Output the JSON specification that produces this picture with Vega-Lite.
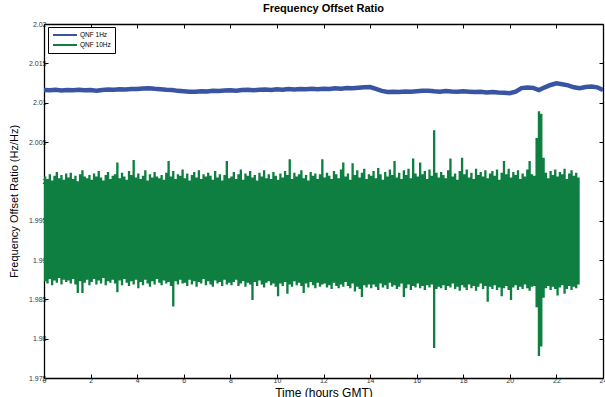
{
 "$schema": "https://vega.github.io/schema/vega-lite/v6.json",
 "width": 559, "height": 354,
 "autosize": {"type": "none"},
 "padding": {"left": 44, "top": 24, "right": 2, "bottom": 19},
 "background": "white",
 "config": {"view": {"stroke": null}, "font": "Liberation Sans"},
 "title": {"text": "Frequency Offset Ratio", "fontSize": 11, "fontWeight": "bold", "font": "Liberation Sans", "color": "black", "offset": 6, "anchor": "middle"},
 "datasets": {
  "qnf10": [
{"t":0,"hi":2.0006,"lo":1.9873},{"t":0.1,"hi":2.0003,"lo":1.987},{"t":0.2,"hi":2.0009,"lo":1.9876},{"t":0.3,"hi":2.0001,"lo":1.9868},{"t":0.4,"hi":2.0007,"lo":1.9874},{"t":0.5,"hi":2.0012,"lo":1.9871},{"t":0.6,"hi":2.0004,"lo":1.9877},{"t":0.7,"hi":2.0008,"lo":1.9869},{"t":0.8,"hi":2.0002,"lo":1.9875},{"t":0.9,"hi":2.001,"lo":1.9872},
{"t":1,"hi":2.0005,"lo":1.9874},{"t":1.1,"hi":2.0011,"lo":1.987},{"t":1.2,"hi":2.0003,"lo":1.9876},{"t":1.3,"hi":2.0007,"lo":1.9869},{"t":1.4,"hi":2.0,"lo":1.9858},{"t":1.5,"hi":2.0009,"lo":1.9873},{"t":1.6,"hi":2.0014,"lo":1.9858},{"t":1.7,"hi":2.0006,"lo":1.9871},{"t":1.8,"hi":2.0004,"lo":1.9875},{"t":1.9,"hi":2.0008,"lo":1.9868},
{"t":2,"hi":2.0002,"lo":1.9872},{"t":2.1,"hi":2.001,"lo":1.9876},{"t":2.2,"hi":2.0006,"lo":1.9869},{"t":2.3,"hi":2.0013,"lo":1.9874},{"t":2.4,"hi":2.0005,"lo":1.987},{"t":2.5,"hi":2.0001,"lo":1.9877},{"t":2.6,"hi":2.0008,"lo":1.9868},{"t":2.7,"hi":2.0012,"lo":1.9873},{"t":2.8,"hi":2.0003,"lo":1.9871},{"t":2.9,"hi":2.0007,"lo":1.9875},
{"t":3,"hi":2.0009,"lo":1.987},{"t":3.1,"hi":2.0024,"lo":1.9859},{"t":3.2,"hi":2.0004,"lo":1.9874},{"t":3.3,"hi":2.0011,"lo":1.9868},{"t":3.4,"hi":2.0006,"lo":1.9876},{"t":3.5,"hi":2.0002,"lo":1.9871},{"t":3.6,"hi":2.0013,"lo":1.9867},{"t":3.7,"hi":2.0008,"lo":1.9873},{"t":3.8,"hi":2.0027,"lo":1.9869},{"t":3.9,"hi":2.0005,"lo":1.9875},
{"t":4,"hi":2.001,"lo":1.9864},{"t":4.1,"hi":2.0003,"lo":1.9872},{"t":4.2,"hi":2.0007,"lo":1.9868},{"t":4.3,"hi":2.0014,"lo":1.9875},{"t":4.4,"hi":2.0001,"lo":1.987},{"t":4.5,"hi":2.0009,"lo":1.9866},{"t":4.6,"hi":2.0005,"lo":1.9873},{"t":4.7,"hi":2.0012,"lo":1.9869},{"t":4.8,"hi":2.0006,"lo":1.9876},{"t":4.9,"hi":2.0004,"lo":1.9871},
{"t":5,"hi":2.0008,"lo":1.9868},{"t":5.1,"hi":2.0002,"lo":1.9874},{"t":5.2,"hi":2.0011,"lo":1.987},{"t":5.3,"hi":2.0026,"lo":1.9872},{"t":5.4,"hi":2.0006,"lo":1.9867},{"t":5.5,"hi":2.0013,"lo":1.9841},{"t":5.6,"hi":2.0003,"lo":1.9873},{"t":5.7,"hi":2.0009,"lo":1.9869},{"t":5.8,"hi":2.0007,"lo":1.9875},{"t":5.9,"hi":2.0015,"lo":1.987},
{"t":6,"hi":2.0004,"lo":1.9871},{"t":6.1,"hi":2.001,"lo":1.9867},{"t":6.2,"hi":2.0001,"lo":1.9875},{"t":6.3,"hi":2.0008,"lo":1.9869},{"t":6.4,"hi":2.0012,"lo":1.9873},{"t":6.5,"hi":2.0005,"lo":1.9866},{"t":6.6,"hi":2.0014,"lo":1.9872},{"t":6.7,"hi":2.0003,"lo":1.987},{"t":6.8,"hi":2.0009,"lo":1.9876},{"t":6.9,"hi":2.0006,"lo":1.9868},
{"t":7,"hi":2.0011,"lo":1.9873},{"t":7.1,"hi":2.0007,"lo":1.9869},{"t":7.2,"hi":2.0002,"lo":1.9866},{"t":7.3,"hi":2.0013,"lo":1.9874},{"t":7.4,"hi":2.0005,"lo":1.987},{"t":7.5,"hi":2.0009,"lo":1.9872},{"t":7.6,"hi":2.0001,"lo":1.9867},{"t":7.7,"hi":2.0008,"lo":1.9875},{"t":7.8,"hi":2.0026,"lo":1.9869},{"t":7.9,"hi":2.0004,"lo":1.9871},
{"t":8,"hi":2.0006,"lo":1.9868},{"t":8.1,"hi":2.0012,"lo":1.9872},{"t":8.2,"hi":2.0003,"lo":1.9875},{"t":8.3,"hi":2.0009,"lo":1.9867},{"t":8.4,"hi":2.0015,"lo":1.987},{"t":8.5,"hi":2.0002,"lo":1.9873},{"t":8.6,"hi":2.001,"lo":1.9866},{"t":8.7,"hi":2.0007,"lo":1.9871},{"t":8.8,"hi":2.0013,"lo":1.9869},{"t":8.9,"hi":2.0005,"lo":1.9849},
{"t":9,"hi":2.0008,"lo":1.9872},{"t":9.1,"hi":2.0001,"lo":1.9867},{"t":9.2,"hi":2.0011,"lo":1.9874},{"t":9.3,"hi":2.0006,"lo":1.9869},{"t":9.4,"hi":2.0014,"lo":1.9865},{"t":9.5,"hi":2.0004,"lo":1.9871},{"t":9.6,"hi":2.0009,"lo":1.9873},{"t":9.7,"hi":2.0003,"lo":1.9868},{"t":9.8,"hi":2.0012,"lo":1.987},{"t":9.9,"hi":2.0007,"lo":1.9866},
{"t":10,"hi":2.0002,"lo":1.9854},{"t":10.1,"hi":2.001,"lo":1.987},{"t":10.2,"hi":2.0005,"lo":1.9867},{"t":10.3,"hi":2.0013,"lo":1.9872},{"t":10.4,"hi":2.0008,"lo":1.9857},{"t":10.5,"hi":2.0028,"lo":1.9869},{"t":10.6,"hi":2.0003,"lo":1.9866},{"t":10.7,"hi":2.0011,"lo":1.9873},{"t":10.8,"hi":2.0006,"lo":1.9868},{"t":10.9,"hi":2.0009,"lo":1.9871},
{"t":11,"hi":2.0014,"lo":1.9867},{"t":11.1,"hi":2.0004,"lo":1.9858},{"t":11.2,"hi":2.0008,"lo":1.987},{"t":11.3,"hi":2.0001,"lo":1.9865},{"t":11.4,"hi":2.0012,"lo":1.9872},{"t":11.5,"hi":2.0007,"lo":1.9868},{"t":11.6,"hi":2.001,"lo":1.9864},{"t":11.7,"hi":2.0003,"lo":1.9871},{"t":11.8,"hi":2.0009,"lo":1.9866},{"t":11.9,"hi":2.0028,"lo":1.9869},
{"t":12,"hi":2.0005,"lo":1.987},{"t":12.1,"hi":2.0011,"lo":1.9865},{"t":12.2,"hi":2.0007,"lo":1.9868},{"t":12.3,"hi":2.0003,"lo":1.9863},{"t":12.4,"hi":2.0013,"lo":1.9871},{"t":12.5,"hi":2.0009,"lo":1.9867},{"t":12.6,"hi":2.0004,"lo":1.9864},{"t":12.7,"hi":2.0015,"lo":1.9869},{"t":12.8,"hi":2.0024,"lo":1.9866},{"t":12.9,"hi":2.0006,"lo":1.9872},
{"t":13,"hi":2.001,"lo":1.9867},{"t":13.1,"hi":2.0002,"lo":1.9864},{"t":13.2,"hi":2.0023,"lo":1.987},{"t":13.3,"hi":2.0008,"lo":1.986},{"t":13.4,"hi":2.0014,"lo":1.9866},{"t":13.5,"hi":2.0005,"lo":1.9863},{"t":13.6,"hi":2.0011,"lo":1.9853},{"t":13.7,"hi":2.0016,"lo":1.9868},{"t":13.8,"hi":2.0003,"lo":1.9865},{"t":13.9,"hi":2.0009,"lo":1.9869},
{"t":14,"hi":2.0007,"lo":1.9864},{"t":14.1,"hi":2.0013,"lo":1.9869},{"t":14.2,"hi":2.0004,"lo":1.9866},{"t":14.3,"hi":2.0017,"lo":1.9862},{"t":14.4,"hi":2.0009,"lo":1.987},{"t":14.5,"hi":2.0002,"lo":1.9865},{"t":14.6,"hi":2.0012,"lo":1.9868},{"t":14.7,"hi":2.0006,"lo":1.9863},{"t":14.8,"hi":2.0015,"lo":1.9871},{"t":14.9,"hi":2.0008,"lo":1.9866},
{"t":15,"hi":2.0026,"lo":1.9868},{"t":15.1,"hi":2.0005,"lo":1.9863},{"t":15.2,"hi":2.0011,"lo":1.9866},{"t":15.3,"hi":2.0003,"lo":1.987},{"t":15.4,"hi":2.0014,"lo":1.9853},{"t":15.5,"hi":2.0008,"lo":1.9864},{"t":15.6,"hi":2.0016,"lo":1.9869},{"t":15.7,"hi":2.0004,"lo":1.9862},{"t":15.8,"hi":2.0029,"lo":1.9867},{"t":15.9,"hi":2.001,"lo":1.9865},
{"t":16,"hi":2.0006,"lo":1.987},{"t":16.1,"hi":2.0024,"lo":1.9864},{"t":16.2,"hi":2.0009,"lo":1.9867},{"t":16.3,"hi":2.0013,"lo":1.9862},{"t":16.4,"hi":2.0003,"lo":1.9868},{"t":16.5,"hi":2.0015,"lo":1.9865},{"t":16.6,"hi":2.0007,"lo":1.9869},{"t":16.7,"hi":2.0065,"lo":1.9788},{"t":16.8,"hi":2.0011,"lo":1.9863},{"t":16.9,"hi":2.0005,"lo":1.9866},
{"t":17,"hi":2.0012,"lo":1.9864},{"t":17.1,"hi":2.0008,"lo":1.9868},{"t":17.2,"hi":2.0004,"lo":1.9862},{"t":17.3,"hi":2.0014,"lo":1.9867},{"t":17.4,"hi":2.0029,"lo":1.9865},{"t":17.5,"hi":2.0006,"lo":1.987},{"t":17.6,"hi":2.001,"lo":1.9863},{"t":17.7,"hi":2.0002,"lo":1.9866},{"t":17.8,"hi":2.0013,"lo":1.9861},{"t":17.9,"hi":2.003,"lo":1.9868},
{"t":18,"hi":2.0009,"lo":1.9865},{"t":18.1,"hi":2.0015,"lo":1.9862},{"t":18.2,"hi":2.0005,"lo":1.9869},{"t":18.3,"hi":2.0011,"lo":1.9864},{"t":18.4,"hi":2.0003,"lo":1.9867},{"t":18.5,"hi":2.0016,"lo":1.9861},{"t":18.6,"hi":2.0008,"lo":1.9866},{"t":18.7,"hi":2.0012,"lo":1.987},{"t":18.8,"hi":2.0006,"lo":1.9863},{"t":18.9,"hi":2.0014,"lo":1.9867},
{"t":19,"hi":2.0004,"lo":1.9847},{"t":19.1,"hi":2.001,"lo":1.9866},{"t":19.2,"hi":2.0013,"lo":1.9863},{"t":19.3,"hi":2.0007,"lo":1.9868},{"t":19.4,"hi":2.0015,"lo":1.9862},{"t":19.5,"hi":2.0002,"lo":1.9865},{"t":19.6,"hi":2.0011,"lo":1.9854},{"t":19.7,"hi":2.0026,"lo":1.9864},{"t":19.8,"hi":2.0009,"lo":1.9867},{"t":19.9,"hi":2.0016,"lo":1.9862},
{"t":20,"hi":2.0005,"lo":1.9849},{"t":20.1,"hi":2.0012,"lo":1.9865},{"t":20.2,"hi":2.0008,"lo":1.9868},{"t":20.3,"hi":2.0014,"lo":1.9862},{"t":20.4,"hi":2.0003,"lo":1.9866},{"t":20.5,"hi":2.001,"lo":1.9863},{"t":20.6,"hi":2.0006,"lo":1.9869},{"t":20.7,"hi":2.0015,"lo":1.9864},{"t":20.8,"hi":2.0026,"lo":1.9861},{"t":20.9,"hi":2.0009,"lo":1.9866},
{"t":21,"hi":2.0007,"lo":1.9867},{"t":21.1,"hi":2.0055,"lo":1.984},{"t":21.2,"hi":2.0089,"lo":1.9778},{"t":21.3,"hi":2.0086,"lo":1.979},{"t":21.4,"hi":2.003,"lo":1.9852},{"t":21.5,"hi":2.0011,"lo":1.9864},{"t":21.6,"hi":2.0004,"lo":1.9867},{"t":21.7,"hi":2.0013,"lo":1.9862},{"t":21.8,"hi":2.0008,"lo":1.9866},{"t":21.9,"hi":2.0015,"lo":1.9863},
{"t":22,"hi":2.0006,"lo":1.9855},{"t":22.1,"hi":2.0012,"lo":1.9865},{"t":22.2,"hi":2.0009,"lo":1.9868},{"t":22.3,"hi":2.0016,"lo":1.9857},{"t":22.4,"hi":2.0003,"lo":1.9863},{"t":22.5,"hi":2.001,"lo":1.9867},{"t":22.6,"hi":2.0014,"lo":1.9862},{"t":22.7,"hi":2.0007,"lo":1.9866},{"t":22.8,"hi":2.0011,"lo":1.9864},{"t":22.9,"hi":2.0005,"lo":1.9869},
{"t":23,"hi":2.0013,"lo":1.9867}
  ],
  "qnf1": [
{"t":0,"v":2.0116},{"t":0.25,"v":2.01158},{"t":0.5,"v":2.01163},{"t":0.75,"v":2.01155},{"t":1,"v":2.01162},{"t":1.25,"v":2.01157},{"t":1.5,"v":2.01165},{"t":1.75,"v":2.01158},
{"t":2,"v":2.0116},{"t":2.25,"v":2.01153},{"t":2.5,"v":2.01162},{"t":2.75,"v":2.01168},{"t":3,"v":2.01165},{"t":3.25,"v":2.01172},{"t":3.5,"v":2.01168},{"t":3.75,"v":2.01175},
{"t":4,"v":2.01173},{"t":4.25,"v":2.0118},{"t":4.5,"v":2.01183},{"t":4.75,"v":2.01176},{"t":5,"v":2.01172},{"t":5.25,"v":2.01165},{"t":5.5,"v":2.0116},{"t":5.75,"v":2.0115},
{"t":6,"v":2.01145},{"t":6.25,"v":2.0114},{"t":6.5,"v":2.01138},{"t":6.75,"v":2.01145},{"t":7,"v":2.01142},{"t":7.25,"v":2.0115},{"t":7.5,"v":2.01148},{"t":7.75,"v":2.01155},
{"t":8,"v":2.01158},{"t":8.25,"v":2.01152},{"t":8.5,"v":2.0116},{"t":8.75,"v":2.01165},{"t":9,"v":2.01158},{"t":9.25,"v":2.01163},{"t":9.5,"v":2.01168},{"t":9.75,"v":2.01162},
{"t":10,"v":2.0117},{"t":10.25,"v":2.01165},{"t":10.5,"v":2.01173},{"t":10.75,"v":2.01168},{"t":11,"v":2.01175},{"t":11.25,"v":2.0117},{"t":11.5,"v":2.01178},{"t":11.75,"v":2.01172},
{"t":12,"v":2.01178},{"t":12.25,"v":2.01175},{"t":12.5,"v":2.01182},{"t":12.75,"v":2.01178},{"t":13,"v":2.01185},{"t":13.25,"v":2.01182},{"t":13.5,"v":2.0119},{"t":13.75,"v":2.01195},
{"t":14,"v":2.01198},{"t":14.25,"v":2.01175},{"t":14.5,"v":2.0115},{"t":14.75,"v":2.01135},{"t":15,"v":2.0114},{"t":15.25,"v":2.01135},{"t":15.5,"v":2.01142},{"t":15.75,"v":2.01138},
{"t":16,"v":2.01145},{"t":16.25,"v":2.0115},{"t":16.5,"v":2.01152},{"t":16.75,"v":2.01145},{"t":17,"v":2.0114},{"t":17.25,"v":2.01148},{"t":17.5,"v":2.01142},{"t":17.75,"v":2.01138},
{"t":18,"v":2.01145},{"t":18.25,"v":2.0114},{"t":18.5,"v":2.01135},{"t":18.75,"v":2.01138},{"t":19,"v":2.0113},{"t":19.25,"v":2.01135},{"t":19.5,"v":2.01128},{"t":19.75,"v":2.01125},
{"t":20,"v":2.0112},{"t":20.25,"v":2.0114},{"t":20.5,"v":2.01185},{"t":20.75,"v":2.01192},{"t":21,"v":2.01188},{"t":21.25,"v":2.0116},{"t":21.5,"v":2.01195},{"t":21.75,"v":2.01225},
{"t":22,"v":2.01245},{"t":22.25,"v":2.01235},{"t":22.5,"v":2.0122},{"t":22.75,"v":2.01195},{"t":23,"v":2.01185},{"t":23.25,"v":2.012},{"t":23.5,"v":2.01205},{"t":23.75,"v":2.01195},
{"t":24,"v":2.0116}
  ]
 },
 "layer": [
  {
   "data": {"name": "qnf10"},
   "mark": {"type": "area", "clip": true, "interpolate": "step-after"},
   "encoding": {
    "x": {"field": "t", "type": "quantitative",
      "scale": {"domain": [0, 24], "nice": false, "zero": false},
      "axis": {"orient": "bottom", "values": [0,2,4,6,8,10,12,14,16,18,20,22,24], "format": "d", "grid": false,
        "title": "Time (hours GMT)", "titleFontSize": 12, "titleFontWeight": "normal", "titleColor": "black", "titlePadding": 4,
        "labelFontSize": 7, "labelColor": "#333", "labelPadding": 2, "labelFlush": false,
        "domainColor": "black", "domainWidth": 1.3, "tickColor": "black", "tickSize": -4, "tickWidth": 1}},
    "y": {"field": "hi", "type": "quantitative",
      "scale": {"domain": [1.975, 2.02], "nice": false, "zero": false},
      "axis": {"orient": "left", "values": [1.975,1.98,1.985,1.99,1.995,2,2.005,2.01,2.015,2.02], "format": ".3~f", "grid": false,
        "title": "Frequency Offset Ratio (Hz/Hz)", "titleFontSize": 11, "titleFontWeight": "normal", "titleColor": "black", "titlePadding": 9,
        "labelFontSize": 7, "labelColor": "#333", "labelPadding": 2, "labelFlush": false,
        "domainColor": "black", "domainWidth": 1.3, "tickColor": "black", "tickSize": -4, "tickWidth": 1}},
    "y2": {"field": "lo"},
    "color": {"datum": "QNF 10Hz", "type": "nominal",
      "scale": {"domain": ["QNF 1Hz", "QNF 10Hz"], "range": ["#3a54a4", "#0e7f41"]},
      "legend": {"title": null, "orient": "none", "legendX": 4, "legendY": 3, "direction": "vertical",
        "strokeColor": "black", "fillColor": "white", "padding": 4,
        "symbolType": "M-1,0L7,0", "symbolSize": 36, "symbolStrokeWidth": 2,
        "labelFontSize": 6.5, "labelColor": "black", "labelOffset": 20, "rowPadding": 2,
        "encode": {"symbols": {"update": {"stroke": {"scale": "color", "field": "value"}, "fill": {"value": "transparent"}, "strokeWidth": {"value": 2}}}}}}
   }
  },
  {
   "data": {"name": "qnf1"},
   "mark": {"type": "line", "strokeWidth": 4.5, "clip": true},
   "encoding": {
    "x": {"field": "t", "type": "quantitative",
      "scale": {"domain": [0, 24], "nice": false, "zero": false},
      "axis": {"orient": "top", "values": [0,2,4,6,8,10,12,14,16,18,20,22,24], "grid": false, "labels": false, "title": null,
        "domainColor": "black", "domainWidth": 1.3, "tickColor": "black", "tickSize": -4, "tickWidth": 1}},
    "y": {"field": "v", "type": "quantitative",
      "scale": {"domain": [1.975, 2.02], "nice": false, "zero": false},
      "axis": {"orient": "right", "values": [1.975,1.98,1.985,1.99,1.995,2,2.005,2.01,2.015,2.02], "grid": false, "labels": false, "title": null,
        "domainColor": "black", "domainWidth": 1.3, "tickColor": "black", "tickSize": -4, "tickWidth": 1}},
    "color": {"datum": "QNF 1Hz", "type": "nominal"}
   }
  }
 ],
 "resolve": {"axis": {"x": "independent", "y": "independent"}}
}
